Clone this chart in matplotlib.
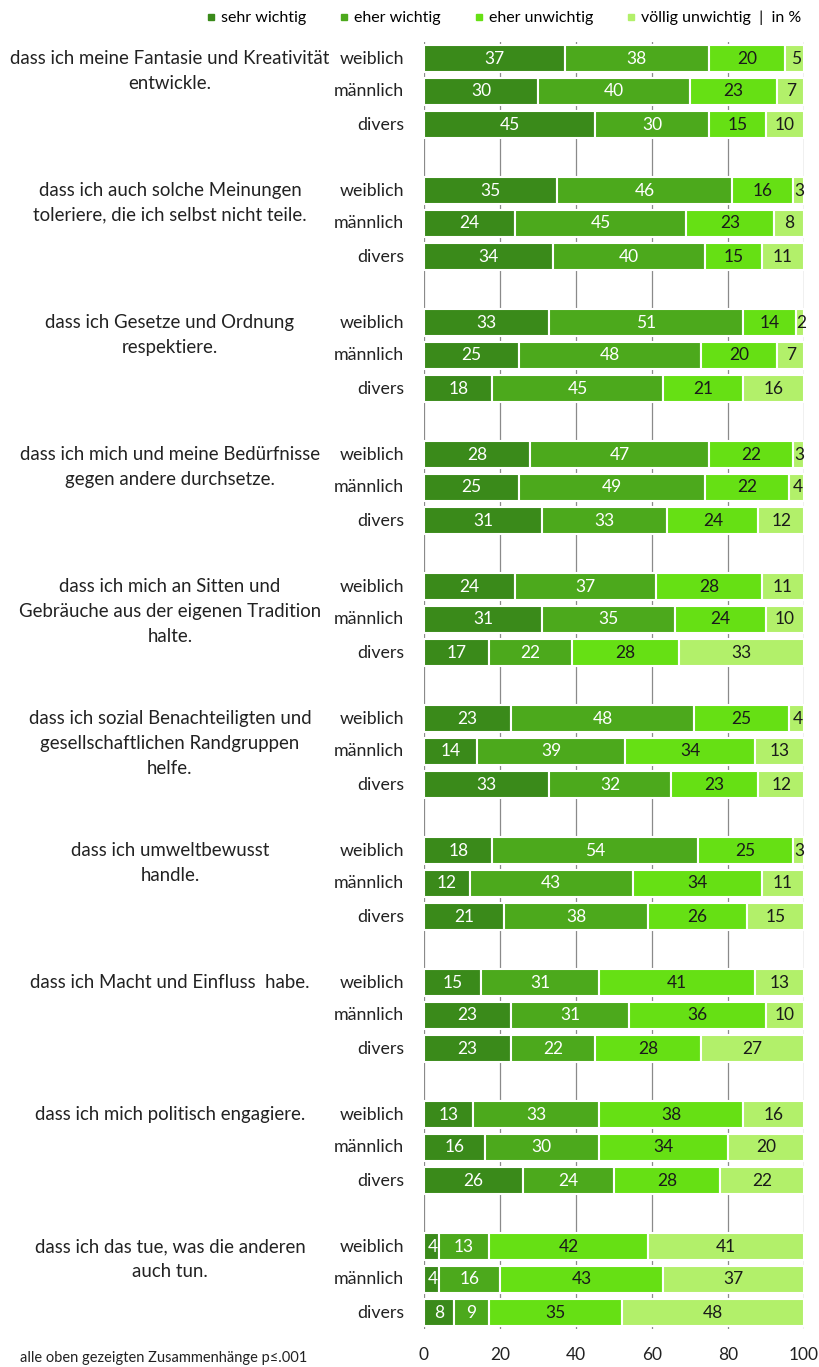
import matplotlib
matplotlib.use("Agg")
import matplotlib.pyplot as plt
from matplotlib.lines import Line2D
from matplotlib.transforms import blended_transform_factory

plt.rcParams['font.family'] = ['Lato', 'DejaVu Sans']

categories = [
    ["dass ich meine Fantasie und Kreativität", "entwickle."],
    ["dass ich auch solche Meinungen", "toleriere, die ich selbst nicht teile."],
    ["dass ich Gesetze und Ordnung", "respektiere."],
    ["dass ich mich und meine Bedürfnisse", "gegen andere durchsetze."],
    ["dass ich mich an Sitten und", "Gebräuche aus der eigenen Tradition", "halte."],
    ["dass ich sozial Benachteiligten und", "gesellschaftlichen Randgruppen", "helfe."],
    ["dass ich umweltbewusst", "handle."],
    ["dass ich Macht und Einfluss  habe."],
    ["dass ich mich politisch engagiere."],
    ["dass ich das tue, was die anderen", "auch tun."],
]
genders = ["weiblich", "männlich", "divers"]
series_names = ["sehr wichtig", "eher wichtig", "eher unwichtig", "völlig unwichtig  |  in %"]

sehr_wichtig = [37, 30, 45, 35, 24, 34, 33, 25, 18, 28, 25, 31, 24, 31, 17,
                23, 14, 33, 18, 12, 21, 15, 23, 23, 13, 16, 26, 4, 4, 8]
eher_wichtig = [38, 40, 30, 46, 45, 40, 51, 48, 45, 47, 49, 33, 37, 35, 22,
                48, 39, 32, 54, 43, 38, 31, 31, 22, 33, 30, 24, 13, 16, 9]
eher_unwichtig = [20, 23, 15, 16, 23, 15, 14, 20, 21, 22, 22, 24, 28, 24, 28,
                  25, 34, 23, 25, 34, 26, 41, 36, 28, 38, 34, 28, 42, 43, 35]
voellig_unwichtig = [5, 7, 10, 3, 8, 11, 2, 7, 16, 3, 4, 12, 11, 10, 33,
                     4, 13, 12, 3, 11, 15, 13, 10, 27, 16, 20, 22, 41, 37, 48]
x_ticks = [0, 20, 40, 60, 80, 100]
footnote = "alle oben gezeigten Zusammenhänge p≤.001"

colors = ["#3a8a1a", "#4ca91c", "#66e014", "#b2f06a"]
text_colors = ["white", "white", "#1a1a1a", "#1a1a1a"]

W, H = 820, 1367
fig = plt.figure(figsize=(W / 100, H / 100), dpi=100)
ax_left, ax_right = 424 / W, 804 / W
ax_top, ax_bot = 42 / H, 1329 / H
ax = fig.add_axes([ax_left, 1 - ax_bot, ax_right - ax_left, ax_bot - ax_top])

series = [sehr_wichtig, eher_wichtig, eher_unwichtig, voellig_unwichtig]
n_rows = len(categories) * 4 - 1
ypos = []
for g in range(len(categories)):
    for k in range(3):
        ypos.append(g * 4 + k)

lefts = [0] * len(ypos)
for s, vals in enumerate(series):
    ax.barh(ypos, vals, left=lefts, height=0.8, color=colors[s],
            edgecolor="white", linewidth=1.5, zorder=3)
    for y, l, v in zip(ypos, lefts, vals):
        xoff = 0.3 if v <= 5 else 0
        ax.text(l + v / 2 + xoff, y, str(v), ha="center", va="center",
                color=text_colors[s], fontsize=12.5, zorder=4)
    lefts = [l + v for l, v in zip(lefts, vals)]

ax.set_xlim(0, 100)
ax.set_ylim(n_rows - 0.5, -0.5)
ax.set_xticks(x_ticks)
ax.set_xticklabels([str(t) for t in x_ticks], fontsize=12.5, color="#222222")
ax.tick_params(axis="x", length=0, pad=13)
ax.set_yticks([])
for t in x_ticks:
    ax.axvline(t, color="#8a8a8a", linewidth=0.9, zorder=1)
for sp in ax.spines.values():
    sp.set_visible(False)

# gender labels and category labels
trans = blended_transform_factory(fig.transFigure, ax.transData)
for g, lines in enumerate(categories):
    for k, gname in enumerate(genders):
        ax.text(404 / W, g * 4 + k, gname, transform=trans, ha="right",
                va="center", fontsize=12.8, color="#222222")
    for j, line in enumerate(lines):
        ax.text(170 / W, g * 4 + j * 0.75, line, transform=trans, ha="center",
                va="center", fontsize=13.4, color="#222222")

fig.text(20 / W, 1 - 1358 / H, footnote, ha="left", va="center",
         fontsize=10.5, color="#222222")

handles = [Line2D([0], [0], marker="s", linestyle="none", markersize=5,
                  markerfacecolor=c, markeredgecolor=c) for c in colors]
fig.legend(handles, series_names, loc="center", bbox_to_anchor=(503 / W, 1 - 18 / H),
           ncol=4, frameon=False, fontsize=11.5, handletextpad=0.2,
           columnspacing=2.0, handlelength=0.8)

fig.savefig("out.png", dpi=100, facecolor="white")
